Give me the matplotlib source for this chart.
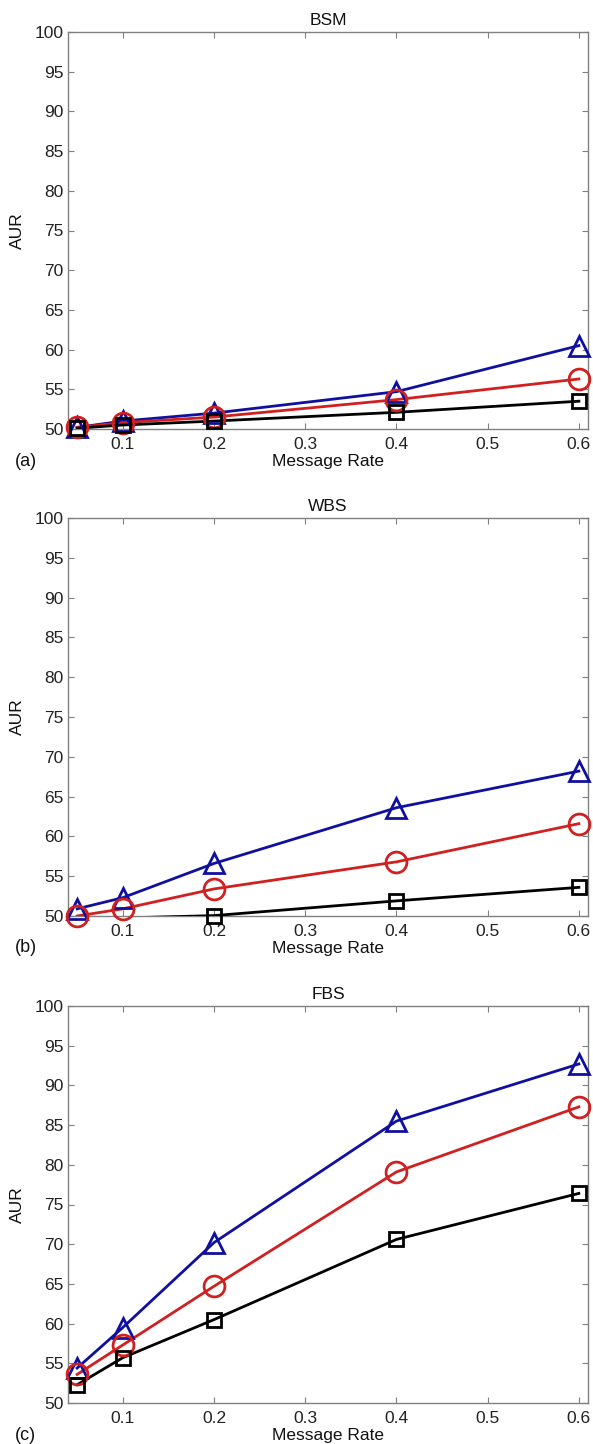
import numpy as np
import matplotlib
matplotlib.use("Agg")
import matplotlib.pyplot as plt

plt.rcParams['font.family'] = ['Liberation Sans', 'DejaVu Sans']

x = [0.05, 0.1, 0.2, 0.4, 0.6]
titles = ["BSM", "WBS", "FBS"]
letters = ["(a)", "(b)", "(c)"]

bsm_blue = [50.2, 51.0, 52.0, 54.7, 60.5]
bsm_red = [50.2, 50.8, 51.5, 53.7, 56.3]
bsm_black = [50.1, 50.5, 51.0, 52.1, 53.5]

wbs_blue = [50.9, 52.3, 56.6, 63.6, 68.2]
wbs_red = [50.0, 50.9, 53.4, 56.8, 61.6]
wbs_black = [49.5, 49.75, 50.05, 51.9, 53.6]

fbs_blue = [54.4, 59.5, 70.2, 85.5, 92.7]
fbs_red = [53.6, 57.3, 64.7, 79.1, 87.3]
fbs_black = [52.3, 55.7, 60.5, 70.6, 76.4]

panels = [
    (bsm_blue, bsm_red, bsm_black),
    (wbs_blue, wbs_red, wbs_black),
    (fbs_blue, fbs_red, fbs_black),
]

W, H = 593, 1444
fig = plt.figure(figsize=(W / 100, H / 100), dpi=100)

# (top, bottom) pixel positions of each axes
boxes = [(32, 429), (518, 916), (1006, 1403)]
left_px, right_px = 68, 588

styles = [
    ('#1010a0', '^', 14.5),
    ('#d02020', 'o', 15),
    ('#000000', 's', 10),
]

for i, (series, (tp, bt)) in enumerate(zip(panels, boxes)):
    ax = fig.add_axes([left_px / W, 1 - bt / H, (right_px - left_px) / W, (bt - tp) / H])
    ymin, ymax = 50, 100
    for vals, (col, mk, ms) in zip(series, styles):
        v = np.array(vals, dtype=float)
        ax.plot(x, v, color=col, lw=2.0, zorder=3, clip_on=True)
        vm = np.where(v >= ymin - 0.1, v, np.nan)
        ax.plot(x, vm, ls='none', marker=mk, ms=ms, mfc='none', mec=col,
                mew=2.0, zorder=4, clip_on=False)
    ax.set_xlim(0.04, 0.61)
    ax.set_ylim(ymin, ymax)
    ax.set_xticks([0.1, 0.2, 0.3, 0.4, 0.5, 0.6])
    ax.set_xticklabels(['0.1', '0.2', '0.3', '0.4', '0.5', '0.6'])
    ax.set_yticks(np.arange(50, 101, 5))
    ax.tick_params(direction='in', top=True, right=True, length=4, width=0.8,
                   colors='#808080', labelcolor='#222222', labelsize=12.5, pad=3)
    ax.tick_params(axis='x', pad=6)
    for sp in ax.spines.values():
        sp.set_color('#808080')
        sp.set_linewidth(1.0)
    ax.set_title(titles[i], fontsize=12.5, color='#111111', pad=5)
    ax.set_xlabel('Message Rate', fontsize=12.5, color='#111111', labelpad=1)
    ax.set_ylabel('AUR', fontsize=12.5, color='#111111', labelpad=7)
    fig.text(15 / W, 1 - (bt + 32) / H, letters[i], fontsize=13, color='#111111',
             ha='left', va='center')

fig.savefig('out.png', dpi=100)
